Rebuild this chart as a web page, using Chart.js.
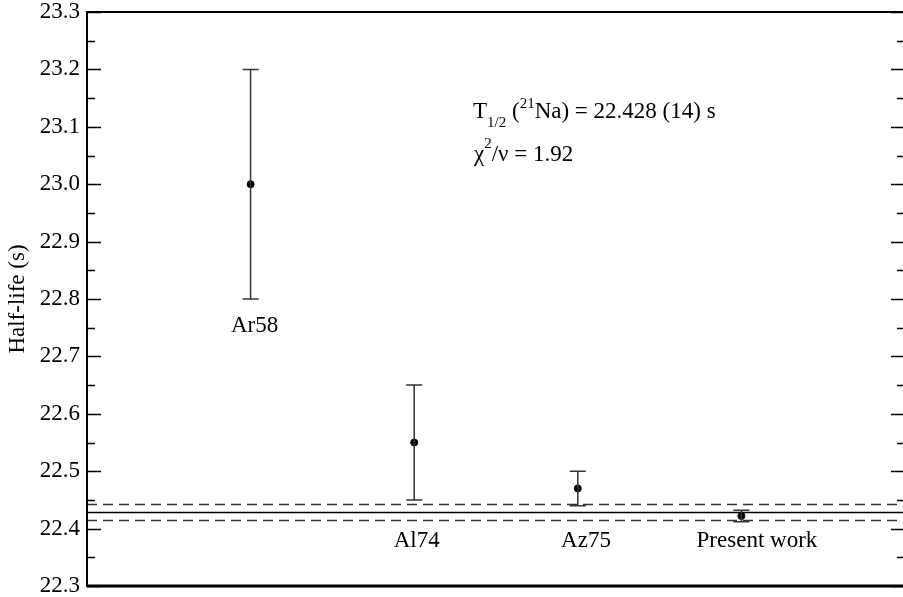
<!DOCTYPE html>
<html>
<head>
<meta charset="utf-8">
<script src="https://cdn.jsdelivr.net/npm/chart.js@4.4.1/dist/chart.umd.min.js"></script>
<style>
  html, body { margin: 0; padding: 0; background: #fff; overflow: hidden; }
  #wrap { width: 910px; height: 597px; }
</style>
</head>
<body>
<div id="wrap"><canvas id="chart" width="910" height="597"></canvas></div>
<script>
// half-life measurements of 21Na
const labels = ['Ar58', 'Al74', 'Az75', 'Present work'];
const xPos = [1, 2, 3, 4];
const halfLife = [23.0, 22.55, 22.47, 22.422];
const halfErr = [0.2, 0.10, 0.03, 0.010];
// where the reference names sit (data units)
const labelX = [1.024, 2.015, 3.05, 4.095];
const labelY = [22.743, 22.368, 22.368, 22.368];
// weighted mean and its error
const meanValue = 22.428;
const meanErr = 0.014;
const yMin = 22.3, yMax = 23.3, yStep = 0.05;

const serif = '"Liberation Serif", "Times New Roman", serif';

function isMajor(v){ return Math.round(v * 100) % 10 === 0; }

const framePlugin = {
    id: 'frame',
    afterDatasetsDraw(chart){
        const ctx = chart.ctx, a = chart.chartArea;
        const y = chart.scales.y, x = chart.scales.x;
        ctx.save();
        // error bars
        ctx.strokeStyle = '#333';
        ctx.lineWidth = 1.5;
        for (let i = 0; i < xPos.length; i++){
            const px = x.getPixelForValue(xPos[i]);
            const top = y.getPixelForValue(halfLife[i] + halfErr[i]);
            const bot = y.getPixelForValue(halfLife[i] - halfErr[i]);
            ctx.beginPath();
            ctx.moveTo(px, top); ctx.lineTo(px, bot);
            ctx.moveTo(px - 8, top); ctx.lineTo(px + 8, top);
            ctx.moveTo(px - 8, bot); ctx.lineTo(px + 8, bot);
            ctx.stroke();
        }
        // inward ticks, left and right
        ctx.strokeStyle = '#000';
        ctx.lineWidth = 1.5;
        y.ticks.forEach(t => {
            const py = Math.round(y.getPixelForValue(t.value)) + 0.5;
            const len = isMajor(t.value) ? 14 : 8;
            ctx.beginPath();
            ctx.moveTo(a.left, py); ctx.lineTo(a.left + len, py);
            ctx.moveTo(a.right, py); ctx.lineTo(a.right - len, py);
            ctx.stroke();
        });
        // border
        ctx.lineWidth = 2;
        ctx.strokeRect(a.left, a.top, a.right - a.left, a.bottom - a.top);
        ctx.lineWidth = 3;
        ctx.beginPath();
        ctx.moveTo(a.left, a.bottom); ctx.lineTo(a.right, a.bottom);
        ctx.stroke();
        // names under the points
        ctx.fillStyle = '#000';
        ctx.font = '23px ' + serif;
        ctx.textAlign = 'center';
        ctx.textBaseline = 'alphabetic';
        labels.forEach((s, i) => {
            ctx.fillText(s, x.getPixelForValue(labelX[i]), y.getPixelForValue(labelY[i]));
        });
        // annotation
        ctx.textAlign = 'left';
        let tx = 473, ty = 118;
        const big = '23px ' + serif, small = '15px ' + serif;
        function put(str, font, dy){
            ctx.font = font;
            ctx.fillText(str, tx, ty + dy);
            tx += ctx.measureText(str).width;
        }
        put('T', big, 0);
        put('1/2', small, 9);
        put(' (', big, 0);
        put('21', small, -10);
        put('Na) = 22.428 (14) s', big, 0);
        tx = 474; ty = 161;
        put('\u03C7', big, 0);
        put('2', small, -13);
        put('/\u03BD = 1.92', big, 0);
        ctx.restore();
    }
};

const points = xPos.map((v, i) => ({ x: v, y: halfLife[i] }));
const hline = v => [{ x: 0, y: v }, { x: 5, y: v }];

new Chart(document.getElementById('chart'), {
    type: 'scatter',
    data: {
        datasets: [
            { type: 'line', data: hline(meanValue), borderColor: '#000', borderWidth: 1.5, pointRadius: 0 },
            { type: 'line', data: hline(meanValue + meanErr), borderColor: '#333', borderWidth: 1.5, borderDash: [10, 6], pointRadius: 0 },
            { type: 'line', data: hline(meanValue - meanErr), borderColor: '#333', borderWidth: 1.5, borderDash: [10, 6], pointRadius: 0 },
            { data: points, backgroundColor: '#000', borderColor: '#000', pointRadius: 3.5 }
        ]
    },
    options: {
        responsive: false,
        animation: false,
        layout: { padding: { left: 0, right: 5, top: 12, bottom: 11 } },
        plugins: { legend: { display: false }, tooltip: { enabled: false } },
        scales: {
            x: { type: 'linear', min: 0, max: 5, display: false },
            y: {
                min: yMin, max: yMax,
                afterFit(s){ s.width = 87; s.paddingTop = 0; s.paddingBottom = 0; },
                grid: { display: false, drawTicks: false },
                border: { display: false },
                ticks: {
                    stepSize: yStep, autoSkip: false, padding: 7,
                    color: '#000', font: { family: serif, size: 23 },
                    callback: v => isMajor(v) ? v.toFixed(1) : ''
                },
                title: { display: true, text: 'Half-life (s)', color: '#000', font: { family: serif, size: 23 }, padding: { top: 4, bottom: 0 } }
            }
        }
    },
    plugins: [framePlugin]
});
</script>
</body>
</html>
